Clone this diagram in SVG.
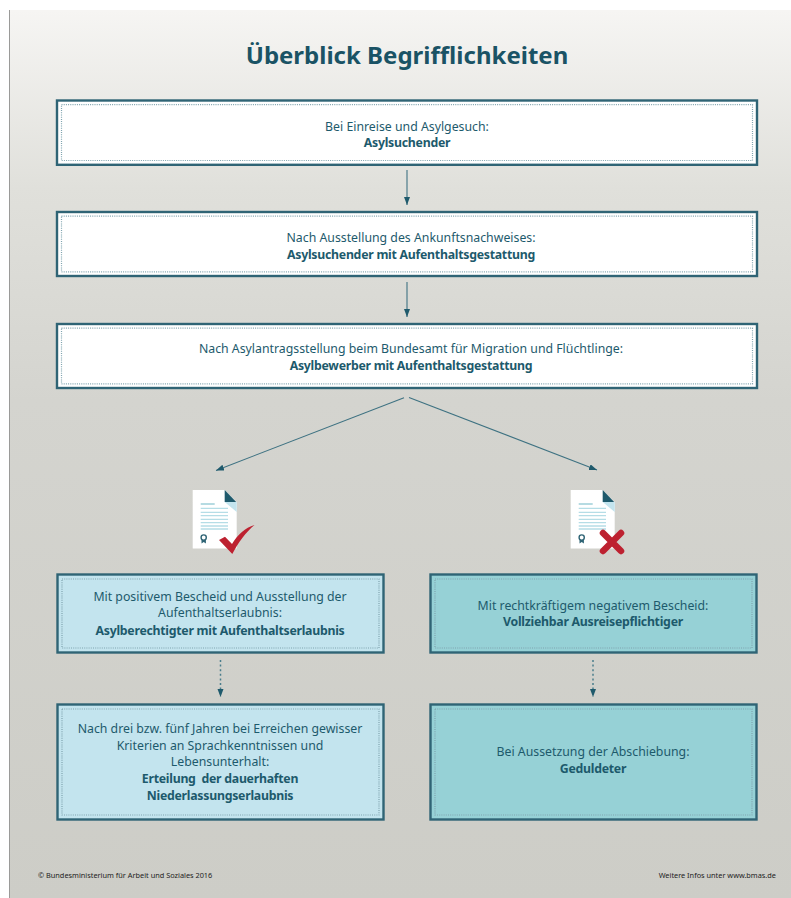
<svg xmlns="http://www.w3.org/2000/svg" width="791" height="898" viewBox="0 0 791 898">
<style>
text{font-family:"Noto Sans","Open Sans","Liberation Sans",sans-serif;fill:#1d5a6c;font-size:12.3px;text-anchor:middle}
.b{font-weight:700;letter-spacing:-.26px}
.t{font-size:24px;font-weight:700;fill:#1a5365}
.f{font-size:7.35px;fill:#222}
.o{stroke:#2f6475;stroke-width:2.4}
.d{fill:none;stroke:#7fa3ae;stroke-width:1.2;stroke-dasharray:1 1.2}
.w{fill:#fff}.l{fill:#c3e4ee}.m{fill:#96d1d6}
.c{stroke:#3e7282;stroke-width:1.1;fill:none}
.h{stroke:#4a7d8c;stroke-width:1.5;fill:none;stroke-dasharray:2 2.6}
.ln{stroke:#b5dde6;stroke-width:1.3}
</style>
<defs>
<linearGradient id="bg" x1="0" y1="0" x2="0" y2="1"><stop offset="0" stop-color="#f6f5f3"/><stop offset=".2" stop-color="#e0e0db"/><stop offset=".44" stop-color="#d4d4cf"/><stop offset="1" stop-color="#cdcdc7"/></linearGradient>
<marker id="a" markerUnits="userSpaceOnUse" markerWidth="9" markerHeight="7" refX="8" refY="3" orient="auto"><path d="M0 0L8 3L0 6z" fill="#1f5a6c"/></marker>
<g id="doc">
<path d="M0 0H32L44 12V58.500H0z" fill="#fff"/>
<path d="M32 0L43.500 12H32z" fill="#1f5a6c"/>
<path d="M32 12H44V22z" fill="#c3e4ee"/>
<path d="M8 14H22" stroke="#86c4cf" stroke-width="1.200"/>
<path class="ln" d="M8 18.300H35.300M8 22.300H35.300M8 25.700H35.300M8 29.300H35.300M8 32.700H35.300M8 36H35.300M8 39H35.300"/>
<circle cx="11" cy="47.500" r="2.600" fill="none" stroke="#2f6475" stroke-width="1.400"/>
<path d="M8.800 50V53.500L11 52L13.200 53.500V50" fill="#2f6475"/>
</g>
</defs>
<rect width="791" height="898" fill="#fff"/>
<rect x="9.500" y="10" width="782" height="888" fill="url(#bg)"/>
<path d="M9.500 10V898" stroke="#9a9a98" stroke-width="1"/>
<text class="t" x="407" y="64">Überblick Begrifflichkeiten</text>

<g id="connectors">
<path class="c" marker-end="url(#a)" d="M407 170V205"/>
<path class="c" marker-end="url(#a)" d="M407 282V317"/>
<path class="c" marker-end="url(#a)" d="M404 397.700L216 470.500"/>
<path class="c" marker-end="url(#a)" d="M409 397.500L597 470"/>
<path class="h" marker-end="url(#a)" d="M220.500 660V697"/>
<path class="h" marker-end="url(#a)" d="M593 660V697"/>
</g>

<g id="n1"><rect class="w o" x="57" y="100.500" width="700" height="64.300"/><rect class="d" x="61.500" y="104.700" width="691" height="55.800"/>
<text x="407" y="131">Bei Einreise und Asylgesuch:</text><text class="b" x="407" y="147">Asylsuchender</text></g>
<g id="n2"><rect class="w o" x="57" y="212" width="700" height="64"/><rect class="d" x="61.500" y="216.200" width="691" height="55.600"/>
<text x="411" y="242">Nach Ausstellung des Ankunftsnachweises:</text><text class="b" x="411" y="259">Asylsuchender mit Aufenthaltsgestattung</text></g>
<g id="n3"><rect class="w o" x="57" y="324" width="700" height="64"/><rect class="d" x="61.500" y="328.200" width="691" height="55.600"/>
<text x="411" y="353">Nach Asylantragsstellung beim Bundesamt für Migration und Flüchtlinge:</text><text class="b" x="411" y="370">Asylbewerber mit Aufenthaltsgestattung</text></g>

<g id="icon-positive"><use href="#doc" x="192.700" y="490"/>
<path d="M219 540L225 536.700L232 544C238 534 245 528 254.500 525C246 532 238 543 232.300 554z" fill="#bd2130"/></g>
<g id="icon-negative"><use href="#doc" x="570.700" y="490"/>
<path d="M603 533L621 551M621 533L603 551" stroke="#bd2130" stroke-width="6.500" stroke-linecap="round" fill="none"/></g>

<g id="n4"><rect class="l o" x="57.500" y="574.500" width="326" height="78"/><rect class="d" x="62" y="579" width="317" height="69"/>
<text x="220" y="601">Mit positivem Bescheid und Ausstellung der</text><text x="220" y="617">Aufenthaltserlaubnis:</text><text class="b" x="220" y="635">Asylberechtigter mit Aufenthaltserlaubnis</text></g>
<g id="n5"><rect class="m o" x="430.500" y="574.500" width="326" height="78"/><rect class="d" x="435" y="579" width="317" height="69"/>
<text x="593" y="610">Mit rechtkräftigem negativem Bescheid:</text><text class="b" x="593" y="626">Vollziehbar Ausreisepflichtiger</text></g>
<g id="n6"><rect class="l o" x="57.500" y="704.500" width="326" height="115"/><rect class="d" x="62" y="709" width="317" height="106"/>
<text x="220" y="733">Nach drei bzw. fünf Jahren bei Erreichen gewisser</text><text x="220" y="750">Kriterien an Sprachkenntnissen und</text><text x="220" y="766">Lebensunterhalt:</text><text class="b" x="220" y="783" xml:space="preserve">Erteilung  der dauerhaften</text><text class="b" x="220" y="800">Niederlassungserlaubnis</text></g>
<g id="n7"><rect class="m o" x="430.500" y="704.500" width="326" height="115"/><rect class="d" x="435" y="709" width="317" height="106"/>
<text x="593" y="756">Bei Aussetzung der Abschiebung:</text><text class="b" x="593" y="773">Geduldeter</text></g>

<text class="f" x="38" y="878" style="text-anchor:start">© Bundesministerium für Arbeit und Soziales 2016</text>
<text class="f" x="776" y="878" style="text-anchor:end">Weitere Infos unter www.bmas.de</text>
</svg>
